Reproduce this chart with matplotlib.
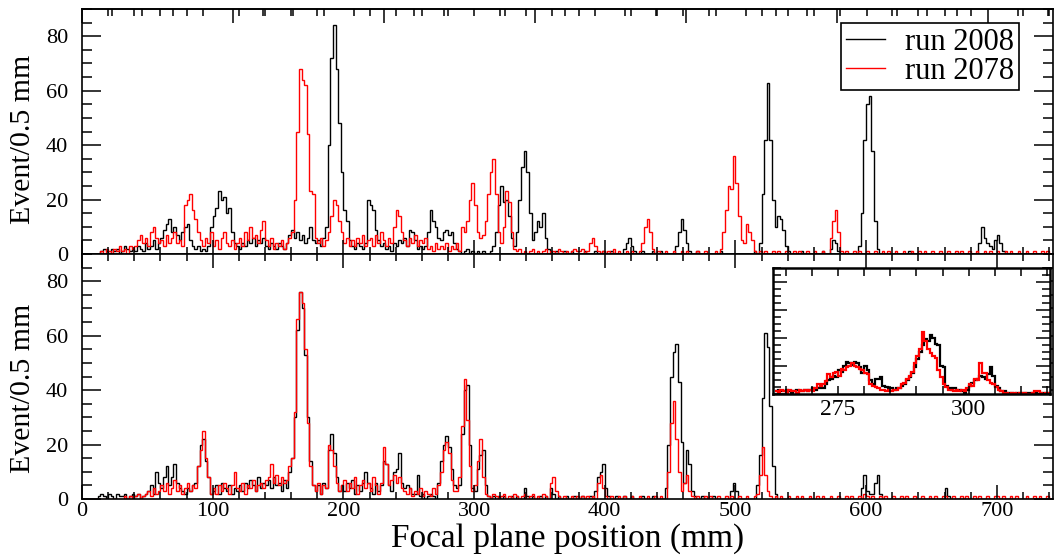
import numpy as np
import matplotlib
matplotlib.use('Agg')
import matplotlib.pyplot as plt
from matplotlib.ticker import MultipleLocator, NullFormatter
from matplotlib.lines import Line2D

plt.rcParams['font.family'] = ['Liberation Serif', 'DejaVu Serif']
plt.rcParams['axes.linewidth'] = 1.2

# counts per 0.5 mm, read every 2 mm from 0 to 740 mm
top_2008 = [
    0, 0, 0, 0, 0, 0, 0, 1, 2, 1,
    0, 2, 1, 2, 0, 1, 3, 2, 1, 2,
    1, 3, 2, 1, 4, 2, 3, 5, 2, 4,
    6, 9, 11, 13, 8, 10, 7, 5, 8, 10,
    11, 5, 3, 2, 3, 1, 2, 1, 3, 10,
    14, 17, 23, 20, 21, 15, 17, 8, 4, 3,
    2, 4, 3, 5, 4, 6, 3, 5, 4, 6,
    3, 2, 4, 3, 2, 4, 3, 2, 4, 7,
    9, 6, 8, 5, 7, 4, 6, 10, 5, 4,
    5, 3, 6, 10, 40, 72, 84, 68, 48, 30,
    16, 12, 5, 3, 2, 4, 3, 2, 4, 20,
    18, 16, 9, 5, 3, 4, 2, 3, 1, 4,
    3, 5, 4, 6, 3, 9, 8, 5, 2, 3,
    2, 3, 8, 16, 12, 10, 6, 5, 8, 9,
    7, 8, 4, 2, 1, 0, 1, 2, 0, 1,
    0, 1, 0, 1, 0, 0, 1, 3, 8, 18,
    25, 19, 20, 14, 6, 3, 8, 20, 32, 38,
    30, 15, 5, 8, 12, 10, 15, 6, 2, 1,
    0, 1, 0, 0, 1, 0, 0, 1, 0, 0,
    0, 0, 1, 0, 0, 0, 1, 0, 0, 1,
    0, 0, 1, 0, 0, 0, 0, 2, 4, 6,
    3, 1, 0, 0, 1, 0, 0, 0, 1, 0,
    0, 1, 0, 0, 0, 0, 0, 3, 8, 13,
    9, 4, 1, 0, 0, 1, 0, 0, 0, 0,
    0, 0, 0, 0, 1, 0, 0, 0, 0, 0,
    0, 0, 0, 0, 0, 0, 0, 1, 0, 4,
    22, 42, 63, 42, 20, 10, 14, 13, 9, 3,
    1, 0, 0, 0, 0, 1, 0, 0, 0, 0,
    0, 0, 0, 1, 0, 0, 2, 5, 4, 1,
    0, 0, 0, 0, 0, 0, 0, 3, 15, 42,
    55, 58, 38, 12, 2, 0, 0, 0, 0, 0,
    0, 0, 0, 0, 0, 0, 1, 0, 0, 0,
    0, 0, 0, 0, 0, 0, 0, 0, 0, 0,
    0, 0, 0, 0, 0, 0, 0, 0, 0, 0,
    0, 0, 0, 4, 10, 6, 4, 3, 2, 5,
    7, 4, 1, 0, 0, 0, 0, 0, 0, 0,
    0, 0, 0, 0, 0, 0, 0, 0, 0, 0,
    0]

top_2078 = [
    0, 0, 0, 0, 0, 0, 0, 1, 0, 2,
    1, 0, 2, 1, 3, 1, 2, 0, 3, 2,
    3, 5, 7, 4, 6, 3, 8, 10, 6, 4,
    5, 3, 7, 4, 6, 8, 4, 5, 3, 18,
    20, 22, 16, 13, 8, 5, 3, 6, 4, 8,
    3, 5, 2, 6, 8, 4, 3, 5, 2, 4,
    6, 3, 8, 5, 10, 6, 7, 4, 9, 12,
    5, 3, 6, 2, 4, 3, 5, 2, 4, 6,
    8, 20, 45, 68, 64, 62, 44, 23, 22, 6,
    4, 6, 3, 5, 8, 14, 20, 18, 12, 8,
    4, 6, 3, 5, 3, 6, 4, 7, 3, 5,
    6, 3, 7, 4, 8, 5, 3, 6, 4, 10,
    16, 14, 8, 5, 3, 6, 4, 7, 3, 5,
    4, 6, 2, 3, 1, 4, 2, 3, 2, 4,
    1, 3, 2, 4, 1, 10, 8, 12, 20, 26,
    18, 8, 6, 7, 12, 22, 30, 35, 22, 8,
    4, 10, 23, 19, 8, 2, 1, 2, 0, 1,
    0, 1, 2, 0, 1, 0, 1, 2, 0, 1,
    1, 0, 2, 1, 0, 1, 0, 1, 2, 1,
    1, 2, 0, 1, 4, 6, 3, 1, 0, 1,
    0, 1, 0, 2, 0, 1, 0, 0, 1, 0,
    1, 0, 0, 1, 4, 10, 13, 8, 2, 0,
    1, 0, 0, 1, 0, 0, 1, 0, 0, 1,
    0, 1, 0, 0, 0, 1, 0, 0, 1, 0,
    0, 0, 1, 0, 2, 8, 16, 25, 24, 36,
    26, 14, 5, 4, 11, 8, 5, 1, 0, 1,
    0, 1, 0, 0, 1, 0, 1, 0, 0, 1,
    0, 0, 1, 0, 1, 0, 0, 1, 0, 0,
    1, 0, 0, 1, 0, 0, 6, 12, 16, 8,
    1, 0, 1, 0, 0, 1, 0, 1, 0, 0,
    1, 0, 0, 1, 0, 0, 1, 0, 1, 0,
    0, 1, 0, 0, 1, 0, 0, 1, 0, 0,
    1, 0, 1, 0, 0, 1, 0, 0, 1, 0,
    0, 1, 0, 0, 1, 0, 1, 0, 0, 1,
    0, 0, 1, 0, 0, 1, 0, 1, 0, 0,
    1, 0, 0, 1, 0, 1, 0, 0, 1, 0,
    0, 1, 0, 0, 1, 0, 0, 1, 0, 1,
    0]

bot_2008 = [
    0, 0, 0, 0, 0, 0, 1, 2, 1, 0,
    2, 1, 0, 2, 1, 1, 2, 0, 1, 2,
    1, 2, 0, 1, 2, 3, 5, 2, 10, 6,
    4, 8, 12, 5, 8, 13, 6, 4, 3, 2,
    4, 3, 5, 6, 12, 20, 22, 14, 8, 2,
    3, 5, 2, 6, 4, 3, 5, 2, 4, 3,
    5, 3, 6, 4, 7, 5, 3, 8, 4, 6,
    5, 7, 4, 8, 5, 6, 3, 7, 4, 10,
    15, 30, 62, 76, 70, 53, 30, 14, 5, 3,
    5, 2, 6, 4, 18, 24, 17, 8, 3, 5,
    3, 6, 4, 7, 2, 5, 3, 6, 10, 6,
    4, 2, 6, 3, 5, 14, 13, 5, 3, 10,
    11, 17, 6, 4, 5, 4, 2, 2, 9, 1,
    2, 0, 1, 2, 1, 0, 6, 14, 20, 23,
    19, 11, 5, 4, 5, 24, 40, 42, 20, 4,
    3, 11, 16, 18, 5, 1, 0, 1, 0, 1,
    0, 1, 0, 0, 1, 0, 1, 0, 0, 4,
    1, 0, 1, 0, 0, 1, 0, 1, 0, 4,
    2, 0, 1, 0, 0, 1, 0, 0, 1, 0,
    0, 1, 0, 0, 1, 0, 3, 8, 10, 13,
    4, 1, 0, 0, 1, 0, 0, 1, 0, 0,
    1, 0, 0, 0, 1, 0, 0, 0, 1, 0,
    0, 0, 0, 4, 20, 45, 54, 57, 43, 21,
    6, 18, 13, 3, 1, 0, 0, 1, 0, 0,
    0, 1, 0, 0, 0, 0, 0, 0, 3, 6,
    3, 0, 0, 0, 0, 0, 0, 0, 5, 16,
    37, 61, 56, 34, 12, 2, 0, 0, 0, 0,
    0, 0, 0, 0, 0, 0, 0, 0, 0, 0,
    0, 0, 0, 0, 0, 0, 0, 0, 0, 0,
    0, 0, 0, 0, 0, 0, 0, 0, 4, 9,
    3, 2, 2, 6, 9, 2, 0, 0, 0, 0,
    0, 0, 0, 0, 0, 0, 0, 0, 0, 0,
    0, 0, 0, 0, 0, 0, 0, 0, 0, 0,
    4, 1, 0, 0, 0, 0, 0, 0, 0, 0,
    0, 0, 0, 0, 0, 0, 0, 0, 0, 0,
    0, 0, 0, 0, 0, 0, 0, 0, 0, 0,
    0, 0, 0, 0, 0, 0, 0, 0, 0, 0,
    0]

bot_2078 = [
    0, 0, 0, 0, 0, 0, 0, 0, 0, 0,
    0, 0, 0, 0, 0, 0, 1, 0, 1, 0,
    1, 2, 0, 1, 2, 3, 1, 4, 2, 3,
    5, 3, 6, 2, 4, 7, 3, 5, 2, 4,
    6, 3, 5, 4, 12, 18, 25, 15, 8, 2,
    4, 2, 5, 3, 6, 4, 2, 5, 10, 4,
    3, 6, 2, 5, 4, 7, 3, 5, 6, 4,
    7, 8, 13, 6, 9, 5, 8, 6, 7, 12,
    15, 32, 66, 76, 72, 55, 28, 12, 5, 3,
    6, 2, 5, 4, 20, 18, 12, 6, 3, 5,
    7, 3, 6, 4, 8, 2, 5, 7, 4, 6,
    3, 8, 5, 2, 6, 19, 13, 5, 7, 9,
    6, 8, 4, 3, 2, 4, 1, 3, 2, 4,
    1, 3, 2, 1, 4, 2, 5, 10, 18, 21,
    17, 7, 3, 3, 8, 27, 44, 29, 12, 3,
    5, 14, 22, 8, 2, 1, 0, 2, 1, 0,
    1, 2, 0, 1, 0, 2, 1, 0, 1, 2,
    0, 1, 2, 0, 1, 0, 2, 1, 0, 6,
    8, 3, 1, 0, 1, 0, 0, 1, 0, 1,
    0, 1, 0, 1, 0, 1, 0, 6, 9, 4,
    1, 0, 1, 0, 0, 1, 0, 1, 0, 0,
    1, 0, 0, 1, 0, 0, 1, 0, 0, 1,
    0, 1, 0, 0, 10, 28, 36, 22, 10, 3,
    6, 9, 3, 1, 0, 1, 0, 0, 1, 0,
    1, 0, 0, 1, 0, 0, 1, 0, 1, 0,
    0, 1, 0, 0, 1, 0, 0, 1, 2, 9,
    19, 9, 3, 1, 0, 1, 0, 1, 0, 0,
    1, 0, 0, 1, 0, 1, 0, 0, 1, 0,
    0, 1, 0, 1, 0, 0, 1, 0, 0, 1,
    0, 0, 1, 0, 1, 0, 0, 1, 0, 2,
    1, 0, 1, 0, 0, 1, 0, 1, 0, 0,
    1, 0, 0, 1, 0, 1, 0, 0, 1, 0,
    0, 1, 0, 0, 1, 0, 1, 0, 0, 1,
    1, 0, 0, 1, 0, 0, 1, 0, 1, 0,
    0, 1, 0, 1, 0, 0, 1, 0, 0, 1,
    1, 0, 1, 0, 0, 1, 0, 1, 0, 0,
    0, 1, 0, 0, 1, 0, 1, 0, 0, 1,
    0]

# inset: 0.5 mm bins from 263.0 mm
inset_2008 = [
    2, 3, 2, 2, 3, 2, 1, 2, 3, 2, 2, 3, 2, 3,
    4, 3, 4, 5, 4, 7,
    10, 11, 13, 12, 17, 16, 20, 23, 22, 21,
    23, 22, 19, 15, 20, 17, 10, 7, 11, 11,
    12, 6, 5, 4, 4, 3, 4, 4, 6, 7,
    10, 12, 15, 19, 25, 30, 35, 39, 38, 42,
    40, 36, 35, 20, 19, 6, 4, 3, 4, 3,
    3, 2, 1, 3, 6, 8, 10, 11, 13, 12,
    11, 14, 19, 13, 6, 4, 2, 2,
    1, 1, 1, 0, 1, 1, 1, 0, 1, 1, 1, 1, 0, 1, 1, 1, 1, 1]
inset_2078 = [
    2, 1, 3, 2, 1, 3, 2, 2, 1, 3, 2, 3, 2, 3, 2, 4,
    7, 6, 7, 9, 14, 12, 15, 16, 13, 18,
    17, 19, 20, 22, 20, 19, 18, 17, 15, 14,
    7, 6, 5, 4, 3, 3, 2, 3, 2, 3,
    3, 4, 7, 8, 11, 13, 16, 22, 27, 32,
    44, 38, 32, 29, 27, 26, 17, 12, 7, 5,
    3, 3, 2, 3, 2, 3, 2, 4, 7, 6,
    11, 10, 22, 15, 15, 10, 8, 7, 5, 3,
    2, 1,
    1, 0, 1, 1, 0, 1, 1, 1, 0, 0, 1, 2, 2, 1, 0, 1, 1, 1]

edges = np.arange(0, 2 * len(top_2008) + 1, 2)
inset_edges = 263.0 + 0.5 * np.arange(len(inset_2008) + 1)

fig = plt.figure(figsize=(10.57, 5.55), dpi=100)
ax1 = fig.add_axes([0.0776, 0.5423, 0.9186, 0.4414])
ax2 = fig.add_axes([0.0776, 0.1009, 0.9186, 0.4414])

for ax, b, r in [(ax1, top_2008, top_2078), (ax2, bot_2008, bot_2078)]:
    ax.stairs(b, edges, color='black', lw=1.0, baseline=None)
    ax.stairs(r, edges, color='red', lw=1.0, baseline=None)
    ax.set_xlim(0, 743)
    ax.set_ylim(0, 90)
    ax.set_yticks([0, 20, 40, 60, 80])
    ax.xaxis.set_major_locator(MultipleLocator(100))
    ax.xaxis.set_minor_locator(MultipleLocator(20))
    ax.yaxis.set_minor_locator(MultipleLocator(5))
    ax.tick_params(which='both', direction='in', top=True, right=True,
                   labelsize=16, width=1.1)
    ax.tick_params(axis='y', which='major', length=14, pad=10)
    ax.tick_params(axis='y', which='minor', length=7)
    ax.tick_params(axis='x', which='major', length=10, pad=2)
    ax.tick_params(axis='x', which='minor', length=5)
    ax.set_ylabel('Event/0.5 mm', fontsize=21.5)

ax1.tick_params(labelbottom=False, top=False)
ax1.yaxis.set_label_coords(-0.047, 0.47)
ax2.yaxis.set_label_coords(-0.047, 0.45)

# the top panel's upper axis is on its own scale
sec = ax1.secondary_xaxis('top', functions=(lambda v: v / 1.155, lambda v: v * 1.155))
sec.xaxis.set_major_locator(MultipleLocator(100))
sec.xaxis.set_minor_locator(MultipleLocator(20))
sec.xaxis.set_major_formatter(NullFormatter())
sec.tick_params(which='both', direction='in', width=1.1)
sec.tick_params(which='major', length=10)
sec.tick_params(which='minor', length=5)

ax2.set_xlabel('Focal plane position (mm)', fontsize=24)
ax2.xaxis.set_label_coords(0.5, -0.098)

handles = [Line2D([], [], color='black', lw=1.0), Line2D([], [], color='red', lw=1.0)]
leg = ax1.legend(handles, ['run 2008', 'run 2078'], loc='upper right',
                 bbox_to_anchor=(0.965, 0.943), fontsize=22, fancybox=False,
                 edgecolor='black', framealpha=1, handlelength=1.3,
                 handletextpad=0.65, labelspacing=0.0, borderpad=0.15,
                 borderaxespad=0)
leg.get_frame().set_linewidth(1.2)

axin = fig.add_axes([0.7313, 0.2901, 0.2621, 0.227])
axin.stairs(inset_2008, inset_edges, color='black', lw=1.6, baseline=None)
axin.stairs(inset_2078, inset_edges, color='red', lw=1.6, baseline=None)
axin.set_xlim(262.6, 315.5)
axin.set_ylim(0, 90)
axin.xaxis.set_major_locator(MultipleLocator(25))
axin.xaxis.set_minor_locator(MultipleLocator(5))
axin.yaxis.set_major_locator(MultipleLocator(20))
axin.yaxis.set_minor_locator(MultipleLocator(5))
axin.yaxis.set_major_formatter(NullFormatter())
axin.tick_params(which='both', direction='in', top=True, right=True,
                 labelsize=17, width=1.1, length=6)
axin.tick_params(axis='y', which='major', length=10)
for s in axin.spines.values():
    s.set_linewidth(1.8)

fig.savefig('out.png', dpi=100)
